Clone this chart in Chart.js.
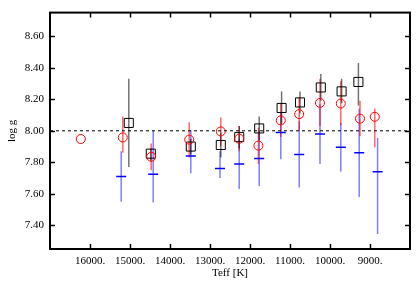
<!DOCTYPE html>
<html>
<head>
<meta charset="utf-8">
<script src="https://cdn.jsdelivr.net/npm/chart.js@4"></script>
<style>
  html, body { margin: 0; padding: 0; background: #fff; }
  #wrap { width: 420px; height: 289px; }
</style>
</head>
<body>
<div id="wrap"><canvas id="chart" width="420" height="289"></canvas></div>
<script>
// Tick values
const xTicks = [16000, 15000, 14000, 13000, 12000, 11000, 10000, 9000];
const yTicks = [7.40, 7.60, 7.80, 8.00, 8.20, 8.40, 8.60];

// Black squares
const blackTeff = [15030, 14480, 13480, 12730, 12270, 11770, 11210, 10750, 10230, 9710, 9290];
const blackLogg = [8.05, 7.855, 7.90, 7.91, 7.96, 8.015, 8.145, 8.18, 8.275, 8.25, 8.31];
const blackLo   = [7.77, 7.81, 7.85, 7.83, 7.89, 7.94, 8.04, 8.11, 8.19, 8.175, 8.16];
const blackHi   = [8.33, 7.89, 7.95, 7.99, 8.03, 8.09, 8.25, 8.25, 8.36, 8.33, 8.43];

// Red circles
const redTeff = [16230, 15180, 14470, 13520, 12730, 12270, 11790, 11230, 10770, 10250, 9730, 9250, 8880];
const redLogg = [7.948, 7.958, 7.835, 7.944, 7.996, 7.95, 7.906, 8.066, 8.106, 8.177, 8.173, 8.077, 8.089];
const redLo   = [null, 7.86, 7.75, 7.83, 7.905, 7.87, 7.79, 7.96, 8.00, 8.03, 8.035, 7.965, 7.895];
const redHi   = [null, 8.09, 7.92, 8.055, 8.085, 8.03, 8.02, 8.17, 8.215, 8.33, 8.315, 8.19, 8.14];

// Blue dashes
const blueTeff = [15220, 14420, 13480, 12750, 12270, 11770, 11230, 10770, 10250, 9730, 9270, 8810];
const blueLogg = [7.71, 7.725, 7.84, 7.76, 7.79, 7.825, 7.99, 7.85, 7.98, 7.895, 7.86, 7.74];
const blueLo   = [7.55, 7.545, 7.73, 7.70, 7.63, 7.65, 7.82, 7.64, 7.79, 7.74, 7.58, 7.345];
const blueHi   = [7.87, 8.00, 8.005, 7.87, 7.95, 8.00, 8.12, 8.06, 8.17, 8.05, 8.14, 7.955];

const refLine = 8.00;

function pts(xs, ys) {
    return xs.map((x, i) => ({ x: x, y: ys[i] }));
}

// Error bars drawn through the chart scales
const errorBars = {
    id: 'errorBars',
    beforeDatasetsDraw(chart) {
        const ctx = chart.ctx;
        const xs = chart.scales.x, ys = chart.scales.y;
        ctx.save();
        chart.data.datasets.forEach(ds => {
            if (!ds.errLo) return;
            ctx.strokeStyle = ds.errColor;
            ctx.lineWidth = 1.5;
            ds.data.forEach((p, i) => {
                if (ds.errLo[i] == null) return;
                const px = xs.getPixelForValue(p.x);
                ctx.beginPath();
                ctx.moveTo(px, ys.getPixelForValue(ds.errLo[i]));
                ctx.lineTo(px, ys.getPixelForValue(ds.errHi[i]));
                ctx.stroke();
            });
        });
        ctx.restore();
    }
};

// Frame with inward ticks on all four sides
const frame = {
    id: 'frame',
    afterDraw(chart) {
        const ctx = chart.ctx;
        const a = chart.chartArea;
        const xs = chart.scales.x, ys = chart.scales.y;
        const len = 5;
        ctx.save();
        ctx.strokeStyle = '#000';
        ctx.lineWidth = 1.5;
        ctx.beginPath();
        xTicks.forEach(v => {
            const px = Math.round(xs.getPixelForValue(v)) + 0.5;
            ctx.moveTo(px, a.bottom); ctx.lineTo(px, a.bottom - len);
            ctx.moveTo(px, a.top); ctx.lineTo(px, a.top + len);
        });
        yTicks.forEach(v => {
            const py = Math.round(ys.getPixelForValue(v)) + 0.5;
            ctx.moveTo(a.left, py); ctx.lineTo(a.left + len, py);
            ctx.moveTo(a.right, py); ctx.lineTo(a.right - len, py);
        });
        ctx.stroke();
        ctx.lineWidth = 2;
        ctx.strokeRect(a.left, a.top, a.right - a.left, a.bottom - a.top);
        ctx.restore();
    }
};

const serif = { family: '"Liberation Serif", "DejaVu Serif", serif', size: 11 };

new Chart(document.getElementById('chart'), {
    type: 'scatter',
    data: {
        datasets: [
            {
                data: [{ x: 17000, y: refLine }, { x: 8000, y: refLine }],
                showLine: true,
                borderColor: '#000',
                borderWidth: 1,
                borderDash: [3, 3],
                pointRadius: 0
            },
            {
                data: pts(blueTeff, blueLogg),
                errLo: blueLo, errHi: blueHi,
                errColor: 'rgba(40,40,255,0.6)',
                pointStyle: 'line',
                pointRadius: 5,
                borderColor: '#0000ff',
                borderWidth: 1.5,
                backgroundColor: '#0000ff'
            },
            {
                data: pts(redTeff, redLogg),
                errLo: redLo, errHi: redHi,
                errColor: 'rgba(255,0,0,0.6)',
                pointStyle: 'circle',
                pointRadius: 4.5,
                borderColor: '#ff0000',
                borderWidth: 1,
                backgroundColor: 'rgba(0,0,0,0)'
            },
            {
                data: pts(blackTeff, blackLogg),
                errLo: blackLo, errHi: blackHi,
                errColor: 'rgba(0,0,0,0.55)',
                pointStyle: 'rect',
                pointRadius: 6.4,
                borderColor: '#000',
                borderWidth: 1,
                backgroundColor: 'rgba(0,0,0,0)'
            }
        ]
    },
    options: {
        responsive: false,
        animation: false,
        events: [],
        layout: { padding: { top: 9, right: 10, left: 0, bottom: 0 } },
        plugins: { legend: { display: false }, tooltip: { enabled: false } },
        scales: {
            x: {
                type: 'linear',
                reverse: true,
                min: 8000,
                max: 17000,
                afterBuildTicks: s => { s.ticks = xTicks.map(v => ({ value: v })); },
                afterFit: s => { s.height = 40; },
                grid: { display: false, drawTicks: false },
                border: { display: false },
                ticks: {
                    color: '#000',
                    font: serif,
                    padding: 6,
                    maxRotation: 0,
                    callback: v => v + '.'
                },
                title: {
                    display: true,
                    text: 'Teff [K]',
                    color: '#000',
                    font: serif,
                    padding: { top: 0, bottom: 9 }
                }
            },
            y: {
                type: 'linear',
                min: 7.25,
                max: 8.75,
                afterBuildTicks: s => { s.ticks = yTicks.map(v => ({ value: v })); },
                afterFit: s => { s.width = 50; },
                grid: { display: false, drawTicks: false },
                border: { display: false },
                ticks: {
                    color: '#000',
                    font: serif,
                    padding: 6,
                    callback: v => v.toFixed(2)
                },
                title: {
                    display: true,
                    text: 'log g',
                    color: '#000',
                    font: serif,
                    padding: { top: 6, bottom: 0 }
                }
            }
        }
    },
    plugins: [errorBars, frame]
});
</script>
</body>
</html>
